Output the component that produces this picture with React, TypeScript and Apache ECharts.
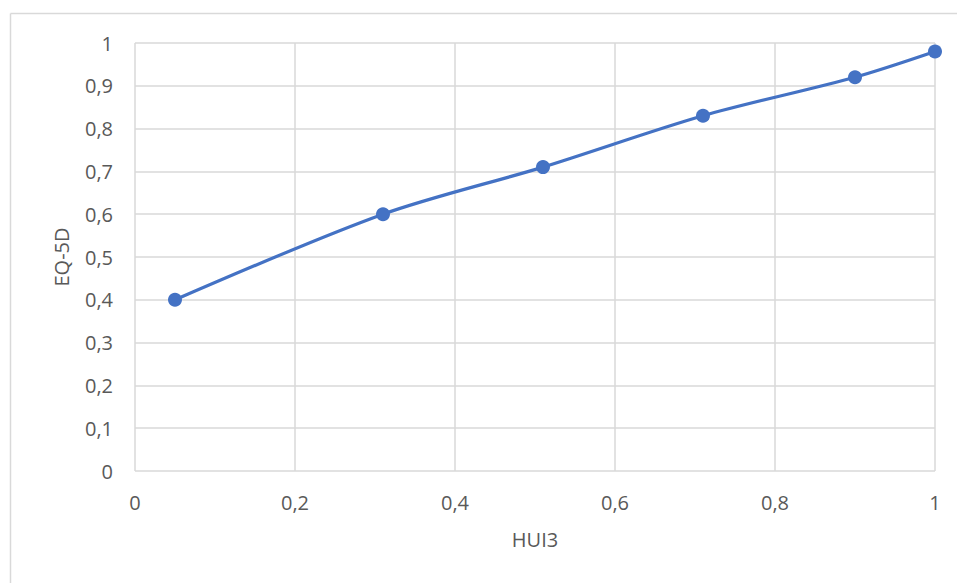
import React, { useEffect, useRef } from "react";
import * as echarts from "echarts";

// HUI3 vs EQ-5D utility mapping
const hui3Values = [0.05, 0.31, 0.51, 0.71, 0.9, 1.0];
const eq5dValues = [0.4, 0.6, 0.71, 0.83, 0.92, 0.98];
const xAxisTitle = "HUI3";
const yAxisTitle = "EQ-5D";

const fmt = (v: number) => String(Math.round(v * 10) / 10).replace(".", ",");

export default function App() {
  const ref = useRef<HTMLDivElement>(null);

  useEffect(() => {
    if (!ref.current) return;
    const chart = echarts.init(ref.current, undefined, { renderer: "svg" });
    const labelColor = "#595959";
    const gridColor = "#d9d9d9";
    const font = "'Open Sans', 'Noto Sans', sans-serif";

    chart.setOption({
      animation: false,
      backgroundColor: "#ffffff",
      grid: { left: 135, top: 43, width: 800, height: 428, containLabel: false },
      graphic: [
        {
          type: "line",
          shape: { x1: 10.5, y1: 13.5, x2: 10.5, y2: 583 },
          style: { stroke: gridColor, lineWidth: 1.5 },
        },
        {
          type: "line",
          shape: { x1: 10.5, y1: 13.5, x2: 957, y2: 13.5 },
          style: { stroke: gridColor, lineWidth: 1.5 },
        },
      ],
      xAxis: {
        type: "value",
        min: 0,
        max: 1,
        interval: 0.2,
        name: xAxisTitle,
        nameLocation: "middle",
        nameGap: 58,
        nameTextStyle: { color: labelColor, fontSize: 20, fontFamily: font },
        axisLine: { show: false },
        axisTick: { show: false },
        axisLabel: {
          color: labelColor,
          fontSize: 20,
          fontFamily: font,
          margin: 21,
          formatter: fmt,
        },
        splitLine: { show: true, lineStyle: { color: gridColor, width: 1.5 } },
      },
      yAxis: {
        type: "value",
        min: 0,
        max: 1,
        interval: 0.1,
        name: yAxisTitle,
        nameLocation: "middle",
        nameGap: 64,
        nameRotate: 90,
        nameTextStyle: { color: labelColor, fontSize: 20, fontFamily: font },
        axisLine: { show: false },
        axisTick: { show: false },
        axisLabel: {
          color: labelColor,
          fontSize: 20,
          fontFamily: font,
          margin: 22,
          formatter: fmt,
        },
        splitLine: { show: true, lineStyle: { color: gridColor, width: 1.5 } },
      },
      series: [
        {
          type: "line",
          data: hui3Values.map((x, i) => [x, eq5dValues[i]]),
          smooth: 0.3,
          symbol: "circle",
          symbolSize: 14,
          lineStyle: { color: "#4472C4", width: 3.2 },
          itemStyle: { color: "#4472C4" },
        },
      ],
    });

    return () => chart.dispose();
  }, []);

  return (
    <div
      ref={ref}
      style={{ position: "fixed", left: 0, top: 0, width: 957, height: 583, background: "#fff" }}
    />
  );
}
